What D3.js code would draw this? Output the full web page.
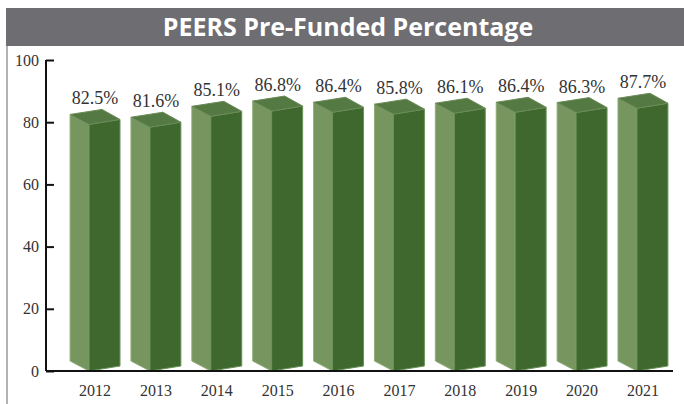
<!DOCTYPE html>
<html>
<head>
<meta charset="utf-8">
<script src="https://cdn.jsdelivr.net/npm/d3@7"></script>
<style>
  body { margin: 0; background: #fff; }
  svg { display: block; }
</style>
</head>
<body>
<svg id="chart" width="684" height="404"></svg>
<script>
// values
const years = ["2012", "2013", "2014", "2015", "2016", "2017", "2018", "2019", "2020", "2021"];
const funded = [82.5, 81.6, 85.1, 86.8, 86.4, 85.8, 86.1, 86.4, 86.3, 87.7];
const yTicks = [0, 20, 40, 60, 80, 100];

const svg = d3.select("#chart");

// title bar + frame
svg.append("rect").attr("x", 6).attr("y", 8).attr("width", 678).attr("height", 38).attr("fill", "#6e6d72");
svg.append("text")
    .attr("x", 348).attr("y", 36)
    .attr("text-anchor", "middle")
    .attr("font-family", "Open Sans, sans-serif")
    .attr("font-weight", "bold")
    .attr("font-size", 25)
    .attr("fill", "#fff")
    .text("PEERS Pre-Funded Percentage");
svg.append("line").attr("x1", 7).attr("x2", 7).attr("y1", 46).attr("y2", 404)
    .attr("stroke", "#9a9a9a").attr("stroke-width", 1.5);

const y = d3.scaleLinear().domain([0, 100]).range([371, 60]);
const x = d3.scaleBand().domain(years).range([64, 674]).paddingInner(0.18).paddingOuter(0.1);

// bars drawn as little boxes
const g = svg.append("g");
const bars = g.selectAll("g.bar").data(years).enter().append("g").attr("class", "bar");

bars.each(function (d, i) {
    const sel = d3.select(this);
    const xl = x(d), w = x.bandwidth();
    const xf = xl + w * 0.38, xr = xl + w;
    const yv = y(funded[i]), y0 = y(0);
    const left = [[xl, yv], [xf, yv + 10], [xf, y0], [xl, y0 - 10]];
    const right = [[xf, yv + 10], [xr, yv + 5], [xr, y0 - 5], [xf, y0]];
    const top = [[xl, yv], [xl + w * 0.64, yv - 5], [xr, yv + 5], [xf, yv + 10]];
    const line = d3.line().curve(d3.curveLinearClosed);
    sel.append("path").attr("d", line(left)).attr("fill", "#76955f").attr("stroke", "#8fac78").attr("stroke-width", 1);
    sel.append("path").attr("d", line(right)).attr("fill", "#3e682d").attr("stroke", "#6a9258").attr("stroke-width", 1);
    sel.append("path").attr("d", line(top)).attr("fill", "#557943").attr("stroke", "#6a8a58").attr("stroke-width", 1);
    sel.append("text")
        .attr("x", xl + w / 2).attr("y", yv - 10)
        .attr("text-anchor", "middle")
        .attr("font-family", "Liberation Serif, serif")
        .attr("font-size", 18)
        .attr("fill", "#333")
        .text(funded[i].toFixed(1) + "%");
});

// axes
const yAxis = svg.append("g").attr("transform", "translate(46,0)")
    .call(d3.axisRight(y).tickValues(yTicks).tickSize(8).tickFormat(d3.format("d")));
yAxis.select(".domain").attr("stroke", "#111").attr("stroke-width", 2).attr("d", "M0,60V371");
yAxis.selectAll(".tick line").attr("stroke", "#111").attr("stroke-width", 2);
yAxis.selectAll(".tick text")
    .attr("x", -7).attr("text-anchor", "end")
    .attr("font-family", "Liberation Serif, serif").attr("font-size", 16).attr("fill", "#333");

const xAxis = svg.append("g").attr("transform", "translate(0,371)")
    .call(d3.axisBottom(x).tickSize(0).tickPadding(14));
xAxis.select(".domain").attr("stroke", "#111").attr("stroke-width", 2).attr("d", "M46,0H673");
xAxis.selectAll(".tick text")
    .attr("font-family", "Liberation Serif, serif").attr("font-size", 16).attr("fill", "#333");
</script>
</body>
</html>
